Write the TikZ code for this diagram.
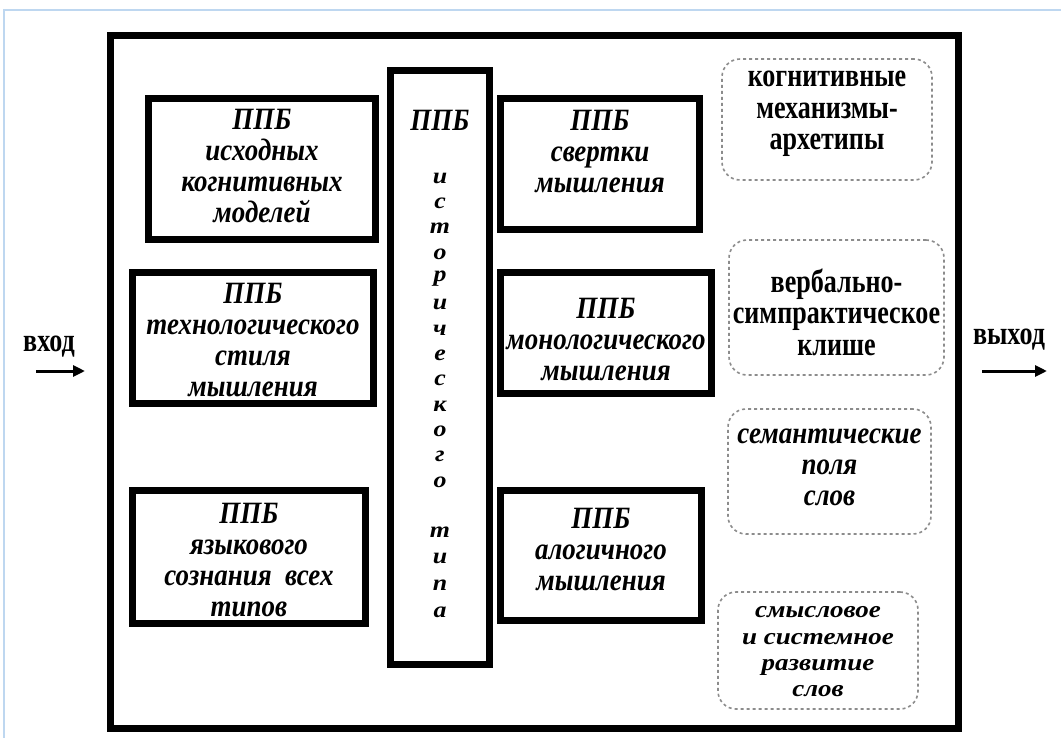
\documentclass[tikz,border=0pt]{standalone}
\usepackage{fontspec}
\setmainfont{Liberation Serif}
\newfontfamily\itfam[FakeStretch=0.87]{Liberation Serif}
\newfontfamily\ltfam[FakeStretch=1.15]{Liberation Serif}
\newfontfamily\upfam[FakeStretch=0.79]{Liberation Serif}
\usetikzlibrary{arrows.meta}
\begin{document}
\begin{tikzpicture}[x=1pt,y=-1pt,
  thickbox/.style={draw=black,line width=7pt,minimum width=#1,inner sep=0pt},
  dbox/.style={draw=black!45,dashed,line width=1.6pt,rounded corners=18pt,inner sep=0pt},
  itx/.style={font=\itfam\fontsize{31}{31}\selectfont\bfseries\itshape,align=center,inner sep=0pt},
  letter/.style={font=\ltfam\fontsize{22.5}{24}\selectfont\bfseries\itshape,inner sep=0pt},
  upx/.style={font=\upfam\fontsize{33}{31.5}\selectfont\bfseries,align=center,inner sep=0pt},
  arr/.style={line width=3pt,-{Triangle[length=12pt,width=11pt]}}]
\useasboundingbox (0,0) rectangle (1061,737);
\fill[white] (0,0) rectangle (1061,737);
\draw[color={rgb,255:red,190;green,215;blue,240},line width=1.2pt] (4,745) -- (4,10) -- (1065,10);
% outer frame
\node[draw=black,line width=7pt,minimum width=848pt,minimum height=693pt,inner sep=0pt] (frame) at (534.5,382) {};
% left boxes
\node[thickbox=227pt,minimum height=141pt] (b1) at (262,169) {};
\node[thickbox=241pt,minimum height=131pt] (b2) at (253,338) {};
\node[thickbox=233pt,minimum height=133pt] (b3) at (249,557) {};
\node[itx] (t1) at (262,166) {ППБ\\исходных\\когнитивных\\моделей};
\node[itx] (t2) at (253,340) {ППБ\\технологического\\стиля\\мышления};
\node[itx] (t3) at (249,560) {ППБ\\языкового\\сознания\ \ всех\\типов};
% vertical box
\node[thickbox=99pt,minimum height=594pt] (v) at (440,367.5) {};
\node[itx] (vt0) at (440,120) {ППБ};
\foreach \l/\y [count=\i] in {и/178,с/203,т/228,о/254,р/279,и/304,ч/330,е/355,с/380,к/406,о/431,г/456,о/482,т/532,и/558,п/585,а/612}
  \node[letter] (vl\i) at (440,\y) {\l};
% right boxes
\node[thickbox=199pt,minimum height=131pt] (r1) at (600,164) {};
\node[thickbox=211pt,minimum height=121pt] (r2) at (606,333) {};
\node[thickbox=201pt,minimum height=130pt] (r3) at (601,555.5) {};
\node[itx] (rt1) at (600,152) {ППБ\\свертки\\мышления};
\node[itx] (rt2) at (606,340) {ППБ\\монологического\\мышления};
\node[itx] (rt3) at (601,550) {ППБ\\алогичного\\мышления};
% dashed boxes
\node[dbox,minimum width=210pt,minimum height=121pt] (d1) at (827,119.5) {};
\node[dbox,minimum width=215pt,minimum height=135pt] (d2) at (836.5,307.5) {};
\node[dbox,minimum width=203pt,minimum height=125pt] (d3) at (829.5,471.5) {};
\node[dbox,minimum width=200pt,minimum height=117pt] (d4) at (818,650.5) {};
\node[upx] (dt1) at (827,114) {когнитивные\\механизмы-\\архетипы};
\node[upx] (dt2) at (836.5,312) {вербально-\\симпрактическое\\клише};
\node[itx] (dt3) at (829.5,467) {семантические\\поля\\слов};
\node[font=\ltfam\fontsize{23.5}{26.3}\selectfont\bfseries\itshape,align=center,inner sep=0pt] (dt4) at (818,652) {смысловое\\и системное\\развитие\\слов};
% input / output
\node[upx] (in) at (49,347) {вход};
\node[upx] (out) at (1009,340) {выход};
\coordinate (ina) at (36,371);
\coordinate (inb) at (85,371);
\coordinate (outa) at (982,371);
\coordinate (outb) at (1047,371);
\draw[arr] (ina) -- (inb);
\draw[arr] (outa) -- (outb);
\end{tikzpicture}
\end{document}
